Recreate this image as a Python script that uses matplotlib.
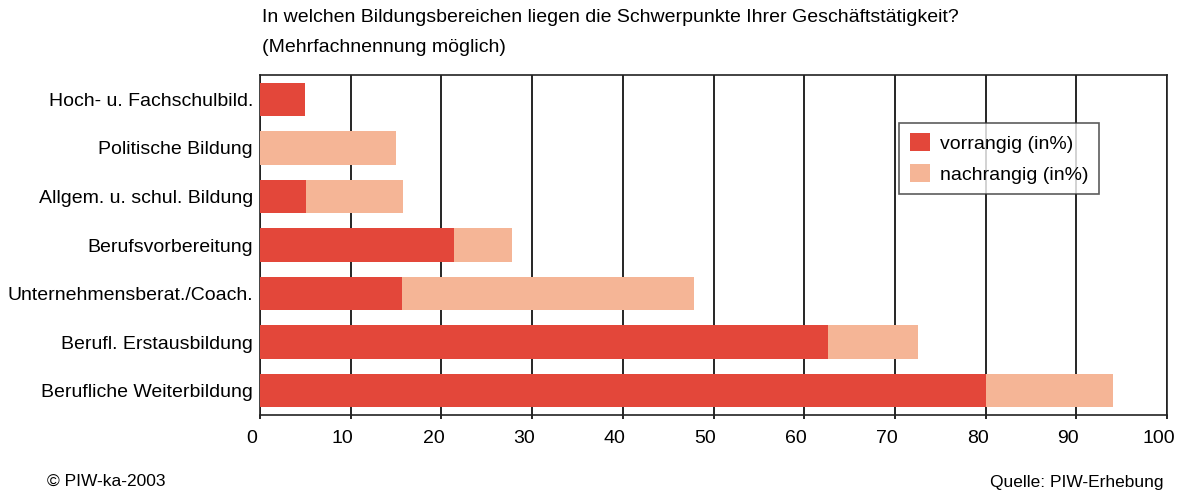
import matplotlib.pyplot as plt
import numpy as np
from matplotlib.transforms import ScaledTranslation

plt.rcParams['font.family'] = ['Liberation Sans', 'DejaVu Sans']

categories = ['Hoch- u. Fachschulbild.', 'Politische Bildung', 'Allgem. u. schul. Bildung',
              'Berufsvorbereitung', 'Unternehmensberat./Coach.', 'Berufl. Erstausbildung',
              'Berufliche Weiterbildung']
vorrangig = [5.0, 0.0, 5.1, 21.4, 15.7, 62.6, 80.0]
nachrangig = [0.0, 15.0, 10.7, 6.4, 32.2, 9.9, 14.0]
xticks = [0, 10, 20, 30, 40, 50, 60, 70, 80, 90, 100]

red = '#E3473A'
light = '#F5B596'

fig = plt.figure(figsize=(11.79, 4.92), dpi=100)
ax = fig.add_axes([260 / 1179, 1 - 415 / 492, 907 / 1179, 340 / 492])

y = np.arange(len(categories))
ax.barh(y, vorrangig, height=0.69, color=red, label='vorrangig (in%)', zorder=3)
ax.barh(y, nachrangig, left=vorrangig, height=0.69, color=light, label='nachrangig (in%)', zorder=3)

ax.set_xlim(0, 100)
ax.set_ylim(len(categories) - 0.5, -0.5)
ax.set_xticks(xticks)
ax.set_yticks(y)
ax.set_yticklabels(categories, fontsize=14)
ax.tick_params(axis='x', labelsize=14, length=3, width=1.2, pad=8)
ax.tick_params(axis='y', length=0, pad=5)
ax.grid(axis='x', color='black', linewidth=1.2, zorder=0)
for s in ax.spines.values():
    s.set_linewidth(1.2)
    s.set_color('#222222')

# x tick labels sit a little left of their ticks in the original
shift = ScaledTranslation(-8 / 100, 0, fig.dpi_scale_trans)
for lab in ax.get_xticklabels():
    lab.set_transform(lab.get_transform() + shift)

leg = ax.legend(loc='upper right', bbox_to_anchor=(0.9255, 0.86), fontsize=14, frameon=True,
                fancybox=False, edgecolor='#333333', handlelength=1.0, handleheight=1.0,
                borderpad=0.55, labelspacing=0.6, handletextpad=0.55, borderaxespad=0)
leg.get_frame().set_linewidth(1.2)

fig.text(262 / 1179, 1 - 18 / 492, 'In welchen Bildungsbereichen liegen die Schwerpunkte Ihrer Geschäftstätigkeit?',
         fontsize=14, va='center', ha='left')
fig.text(262 / 1179, 1 - 48 / 492, '(Mehrfachnennung möglich)', fontsize=14, va='center', ha='left')
fig.text(47 / 1179, 1 - 481 / 492, '© PIW-ka-2003', fontsize=12.5, va='center', ha='left')
fig.text(1163 / 1179, 1 - 482 / 492, 'Quelle: PIW-Erhebung', fontsize=12.5, va='center', ha='right')

fig.savefig('out.png', dpi=100)
